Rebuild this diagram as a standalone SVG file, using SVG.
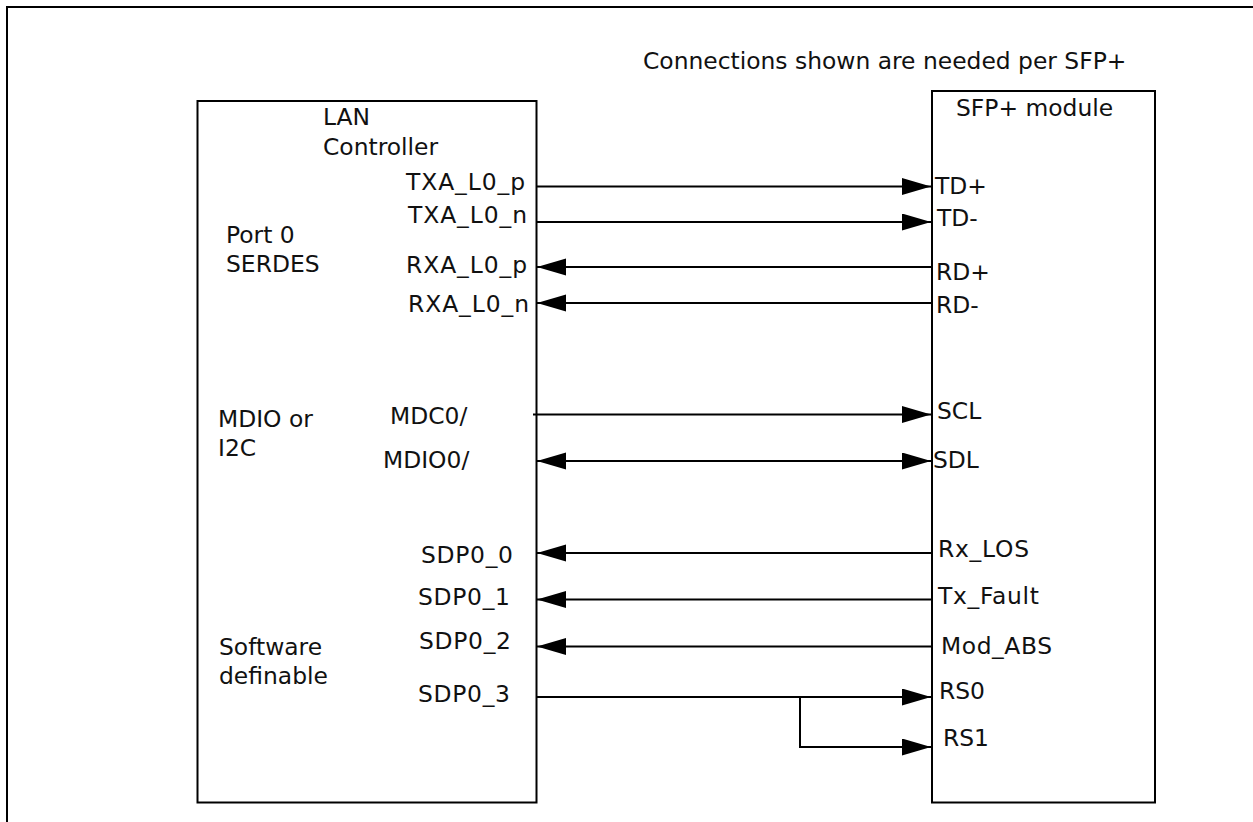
<svg xmlns="http://www.w3.org/2000/svg" width="1253" height="822" viewBox="0 0 1253 822">
<style>
text{font-family:Verdana,"DejaVu Sans",sans-serif;font-size:23.4px;fill:#111}
.box{fill:none;stroke:#000;stroke-width:2}
.ln{fill:none;stroke:#000;stroke-width:2}
</style>
<defs>
<marker id="ah" markerUnits="userSpaceOnUse" markerWidth="30" markerHeight="18" refX="29" refY="8.5" orient="auto-start-reverse" viewBox="0 0 30 18">
<path d="M0,0 L29,8.5 L0,17 z" fill="#000"/>
</marker>
</defs>
<rect width="1253" height="822" fill="#fff"/>
<path d="M7,830 V7 H1260" class="box"/>
<text x="643" y="69">Connections shown are needed per SFP+</text>
<g id="lan">
<rect x="197.5" y="101" width="339" height="701.5" class="box"/>
<text x="323" y="125">LAN</text>
<text x="323" y="155">Controller</text>
<text x="226" y="243">Port 0</text>
<text x="226" y="272">SERDES</text>
<text x="218" y="427">MDIO or</text>
<text x="218" y="456">I2C</text>
<text x="219" y="655">Software</text>
<text x="219" y="684">definable</text>
<text x="406" y="190" textLength="119" lengthAdjust="spacing">TXA_L0_p</text>
<text x="408" y="223" textLength="119" lengthAdjust="spacing">TXA_L0_n</text>
<text x="406" y="273" textLength="121" lengthAdjust="spacing">RXA_L0_p</text>
<text x="408" y="312" textLength="121" lengthAdjust="spacing">RXA_L0_n</text>
<text x="390" y="424">MDC0/</text>
<text x="383" y="468">MDIO0/</text>
<text x="421" y="563" textLength="92" lengthAdjust="spacing">SDP0_0</text>
<text x="418" y="605" textLength="92" lengthAdjust="spacing">SDP0_1</text>
<text x="419" y="649" textLength="92" lengthAdjust="spacing">SDP0_2</text>
<text x="418" y="702" textLength="92" lengthAdjust="spacing">SDP0_3</text>
</g>
<g id="sfp">
<rect x="932" y="91" width="223" height="711.5" class="box"/>
<text x="956" y="116">SFP+ module</text>
<text x="935" y="194">TD+</text>
<text x="937" y="226">TD-</text>
<text x="936" y="280">RD+</text>
<text x="936" y="313">RD-</text>
<text x="937" y="419">SCL</text>
<text x="933" y="468">SDL</text>
<text x="938" y="557" textLength="91" lengthAdjust="spacing">Rx_LOS</text>
<text x="938" y="604" textLength="101" lengthAdjust="spacing">Tx_Fault</text>
<text x="941" y="654" textLength="111" lengthAdjust="spacing">Mod_ABS</text>
<text x="939" y="699">RS0</text>
<text x="943" y="746">RS1</text>
</g>
<g id="connectors">
<path d="M536,186.5 H931" class="ln" marker-end="url(#ah)"/>
<path d="M536,222 H931" class="ln" marker-end="url(#ah)"/>
<path d="M932,267 H537" class="ln" marker-end="url(#ah)"/>
<path d="M932,303 H537" class="ln" marker-end="url(#ah)"/>
<path d="M533,414.5 H931" class="ln" marker-end="url(#ah)"/>
<path d="M537,461 H931" class="ln" marker-start="url(#ah)" marker-end="url(#ah)"/>
<path d="M932,553 H537" class="ln" marker-end="url(#ah)"/>
<path d="M932,599.5 H537" class="ln" marker-end="url(#ah)"/>
<path d="M932,646.5 H537" class="ln" marker-end="url(#ah)"/>
<path d="M536,697 H931" class="ln" marker-end="url(#ah)"/>
<path d="M800,697 V747 H931" class="ln" marker-end="url(#ah)"/>
</g>
</svg>
